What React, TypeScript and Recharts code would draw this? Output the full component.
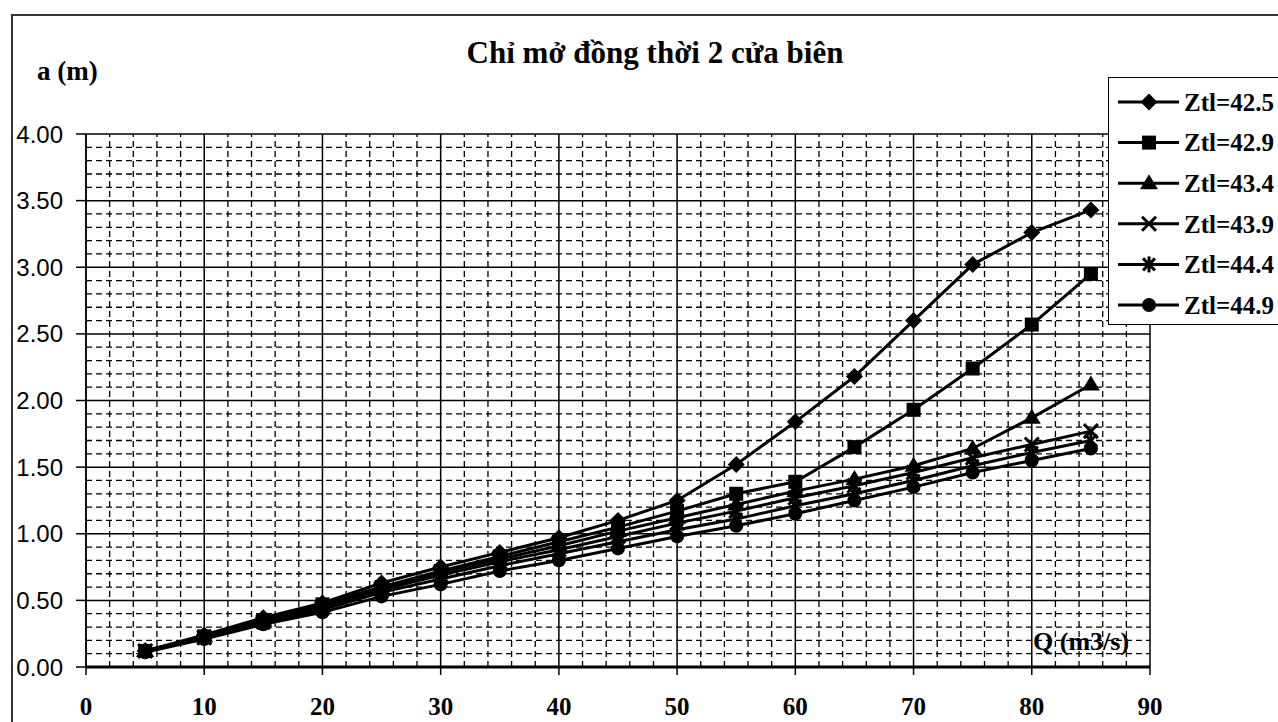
// Gate opening vs discharge, two side gates open together
import React from "react";
import { LineChart, Line, XAxis, YAxis, CartesianGrid, ReferenceLine } from "recharts";

const qValues = [5, 10, 15, 20, 25, 30, 35, 40, 45, 50, 55, 60, 65, 70, 75, 80, 85];

const zt425 = [0.12, 0.24, 0.37, 0.48, 0.63, 0.75, 0.86, 0.97, 1.1, 1.25, 1.52, 1.84, 2.18, 2.6, 3.02, 3.26, 3.43];
const zt429 = [0.12, 0.23, 0.35, 0.47, 0.6, 0.72, 0.83, 0.94, 1.05, 1.17, 1.3, 1.39, 1.65, 1.93, 2.24, 2.57, 2.95];
const zt434 = [0.12, 0.23, 0.35, 0.46, 0.59, 0.71, 0.81, 0.91, 1.02, 1.12, 1.22, 1.32, 1.41, 1.51, 1.64, 1.87, 2.12];
const zt439 = [0.12, 0.22, 0.34, 0.45, 0.58, 0.69, 0.79, 0.88, 0.98, 1.08, 1.17, 1.27, 1.36, 1.46, 1.57, 1.67, 1.77];
const zt444 = [0.12, 0.22, 0.33, 0.43, 0.56, 0.66, 0.76, 0.85, 0.94, 1.03, 1.11, 1.21, 1.3, 1.4, 1.51, 1.61, 1.7];
const zt449 = [0.11, 0.21, 0.32, 0.41, 0.53, 0.62, 0.72, 0.8, 0.89, 0.98, 1.06, 1.15, 1.25, 1.35, 1.46, 1.55, 1.64];

const seriesNames = ["Ztl=42.5", "Ztl=42.9", "Ztl=43.4", "Ztl=43.9", "Ztl=44.4", "Ztl=44.9"];
const seriesValues = [zt425, zt429, zt434, zt439, zt444, zt449];
const markers = ["diamond", "square", "triangle", "cross", "star", "circle"];

const xTicks = [0, 10, 20, 30, 40, 50, 60, 70, 80, 90];
const yTicks = [0, 0.5, 1, 1.5, 2, 2.5, 3, 3.5, 4];

const data = qValues.map((q, i) => {
  const row: any = { q };
  seriesNames.forEach((name, s) => {
    row[name] = seriesValues[s][i];
  });
  return row;
});

// dashed minor grid: every 2 on Q, every 0.1 on a (skip the major lines)
const minorX: number[] = [];
for (let v = 2; v < 90; v += 2) if (v % 10 !== 0) minorX.push(v);
const minorY: number[] = [];
for (let k = 1; k < 40; k++) if (k % 5 !== 0) minorY.push(k / 10);

const serif = "'Liberation Serif', 'Times New Roman', serif";
const sans = "'Liberation Sans', Arial, sans-serif";

const Marker = ({ kind, cx, cy }: { kind: string; cx: number; cy: number }) => {
  switch (kind) {
    case "diamond":
      return <polygon points={`${cx},${cy - 8.5} ${cx + 8.5},${cy} ${cx},${cy + 8.5} ${cx - 8.5},${cy}`} fill="#000" />;
    case "square":
      return <rect x={cx - 7} y={cy - 7} width={14} height={14} fill="#000" />;
    case "triangle":
      return <polygon points={`${cx},${cy - 9} ${cx + 9},${cy + 6} ${cx - 9},${cy + 6}`} fill="#000" />;
    case "cross":
      return (
        <g stroke="#000" strokeWidth={3}>
          <line x1={cx - 7} y1={cy - 7} x2={cx + 7} y2={cy + 7} />
          <line x1={cx - 7} y1={cy + 7} x2={cx + 7} y2={cy - 7} />
        </g>
      );
    case "star":
      return (
        <g stroke="#000" strokeWidth={3}>
          <line x1={cx - 6} y1={cy - 6} x2={cx + 6} y2={cy + 6} />
          <line x1={cx - 6} y1={cy + 6} x2={cx + 6} y2={cy - 6} />
          <line x1={cx} y1={cy - 8} x2={cx} y2={cy + 8} />
        </g>
      );
    default:
      return <circle cx={cx} cy={cy} r={7} fill="#000" />;
  }
};

const LegendBox = () => (
  <div
    style={{
      position: "absolute", left: 1108, top: 77, width: 190, height: 248,
      background: "#fff", border: "1.5px solid #000", boxSizing: "border-box",
    }}
  >
    <svg width={188} height={246} style={{ display: "block" }}>
      {seriesNames.map((name, i) => {
        const y = 24 + i * 40.6;
        return (
          <g key={name}>
            <line x1={9} y1={y} x2={70} y2={y} stroke="#000" strokeWidth={3} />
            <Marker kind={markers[i]} cx={40} cy={y} />
            <text x={75} y={y} dy="0.35em" fontFamily={serif} fontWeight="bold" fontSize={25} fill="#000">
              {name}
            </text>
          </g>
        );
      })}
    </svg>
  </div>
);

export default function App() {
  return (
    <div style={{ position: "absolute", left: 0, top: 0, width: 1278, height: 722, background: "#fff", overflow: "hidden" }}>
      <div style={{ position: "absolute", left: 11, top: 14, width: 1300, height: 720, borderLeft: "2px solid #333", borderTop: "2px solid #333" }} />
      <div
        style={{
          position: "absolute", left: 655, top: 53, transform: "translate(-50%, -50%)", whiteSpace: "nowrap",
          fontFamily: serif, fontWeight: "bold", fontSize: 31, color: "#000",
        }}
      >
        Chỉ mở đồng thời 2 cửa biên
      </div>
      <div
        style={{
          position: "absolute", left: 37, top: 71, transform: "translateY(-50%)", whiteSpace: "nowrap",
          fontFamily: serif, fontWeight: "bold", fontSize: 27, color: "#000",
        }}
      >
        a (m)
      </div>
      <div style={{ position: "absolute", left: 0, top: 0 }}>
        <LineChart width={1278} height={722} data={data} margin={{ top: 134, right: 128, left: 10, bottom: 5 }}>
          <CartesianGrid stroke="#000" strokeWidth={1.5} />
          {minorX.map((v) => (
            <ReferenceLine key={`vx${v}`} x={v} stroke="#000" strokeWidth={1.3} strokeDasharray="6 4" />
          ))}
          {minorY.map((v) => (
            <ReferenceLine key={`hy${v}`} y={v} stroke="#000" strokeWidth={1.3} strokeDasharray="6 4" />
          ))}
          <XAxis
            dataKey="q"
            type="number"
            domain={[0, 90]}
            ticks={xTicks}
            height={50}
            axisLine={{ stroke: "#000", strokeWidth: 3 }}
            tickLine={{ stroke: "#000", strokeWidth: 1.5 }}
            tickSize={8}
            tickMargin={22}
            tick={{ fontFamily: serif, fontWeight: "bold", fontSize: 25, fill: "#000" }}
          />
          <YAxis
            type="number"
            domain={[0, 4]}
            ticks={yTicks}
            width={76}
            axisLine={{ stroke: "#000", strokeWidth: 1.5 }}
            tickLine={{ stroke: "#000", strokeWidth: 1.5 }}
            tickSize={10}
            tickMargin={13}
            tickFormatter={(v: number) => v.toFixed(2)}
            tick={{ fontFamily: sans, fontSize: 24, fill: "#000" }}
          />
          {seriesNames.map((name, i) => (
            <Line
              key={name}
              type="linear"
              dataKey={name}
              stroke="#000"
              strokeWidth={3}
              isAnimationActive={false}
              activeDot={false}
              dot={(p: any) => <Marker key={`${name}-${p.index}`} kind={markers[i]} cx={p.cx} cy={p.cy} />}
            />
          ))}
        </LineChart>
      </div>
      <div
        style={{
          position: "absolute", left: 1033, top: 642, transform: "translateY(-50%)", whiteSpace: "nowrap",
          fontFamily: serif, fontWeight: "bold", fontSize: 26, color: "#000",
        }}
      >
        Q (m3/s)
      </div>
      <LegendBox />
    </div>
  );
}
